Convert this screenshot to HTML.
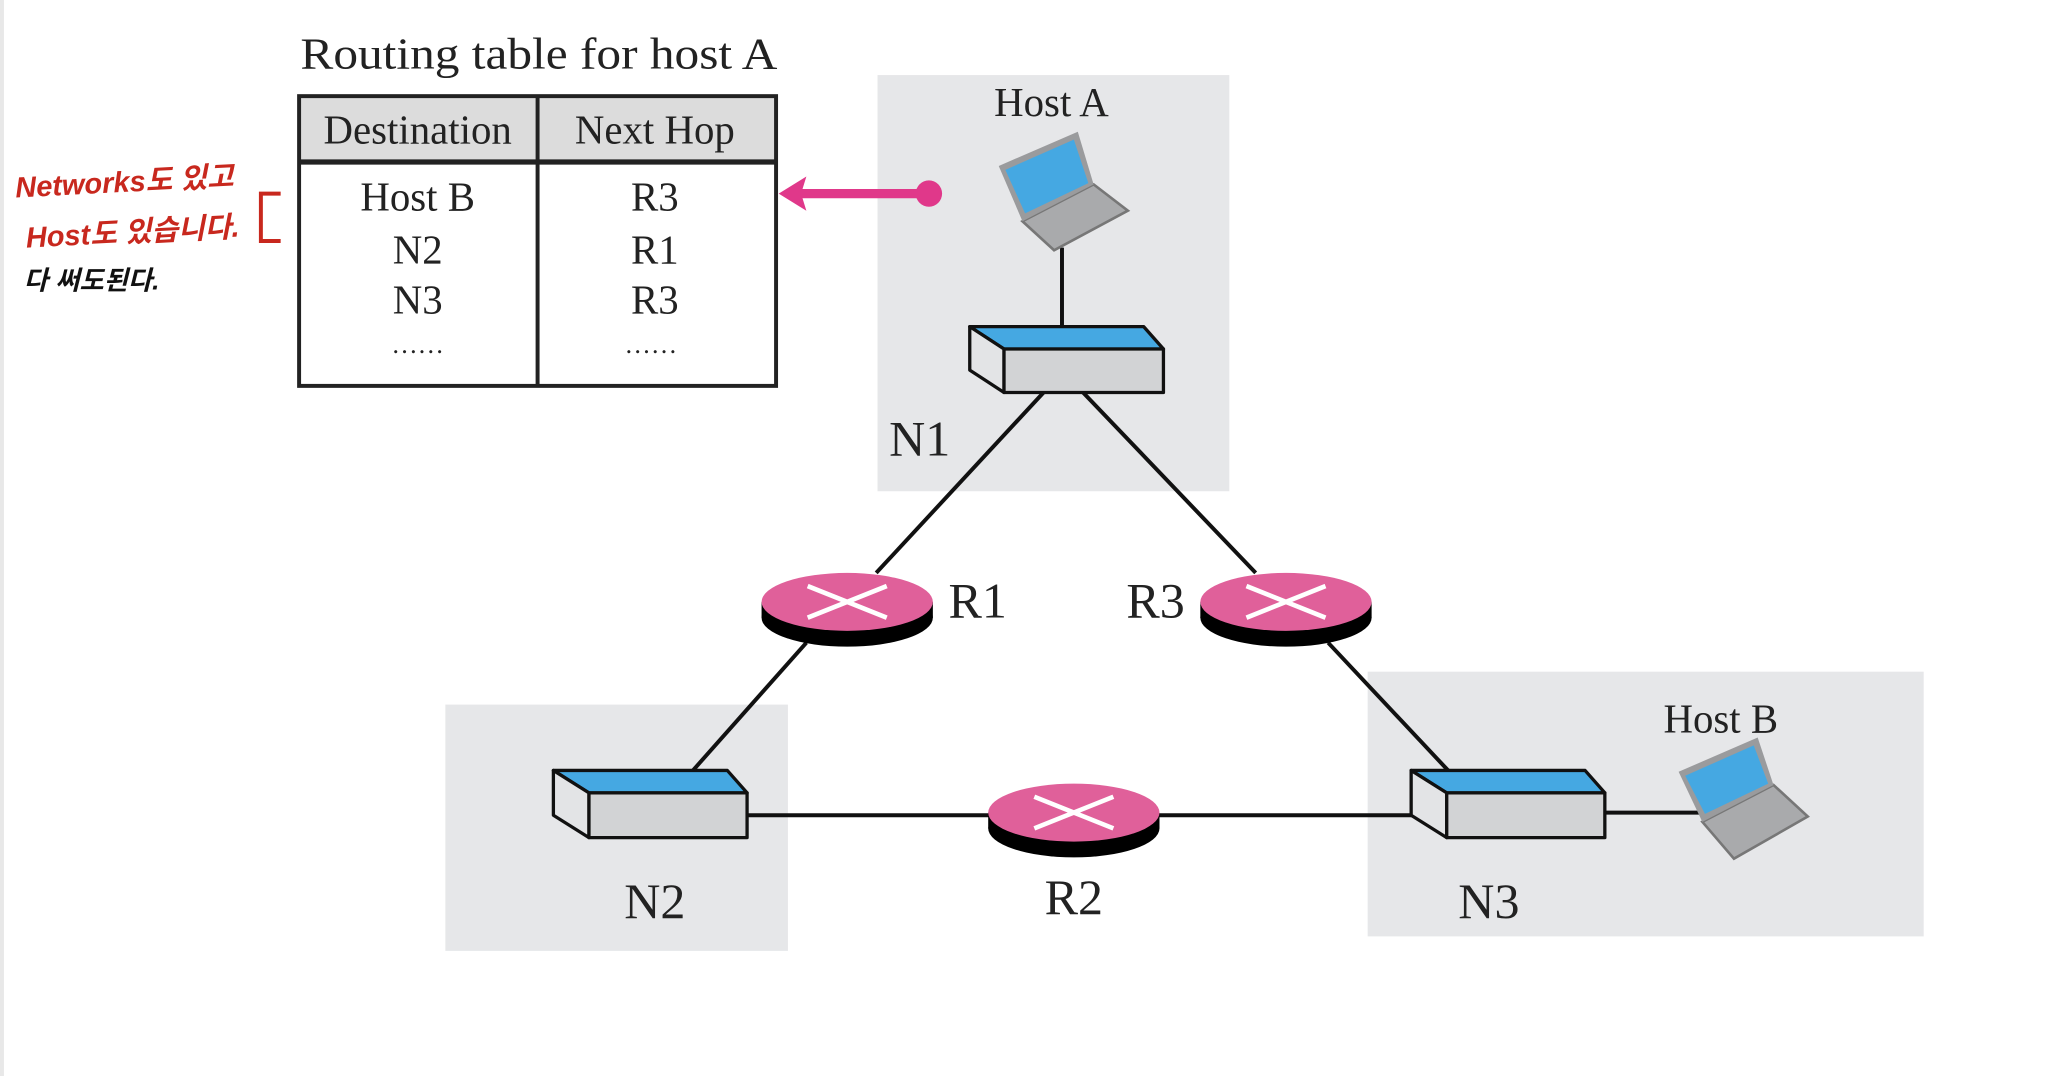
<!DOCTYPE html>
<html><head><meta charset="utf-8"><style>
html,body{margin:0;padding:0;background:#fff;}
svg{display:block;}
</style></head><body>
<svg width="2066" height="1076" viewBox="0 0 1568 817" preserveAspectRatio="none" xmlns="http://www.w3.org/2000/svg" font-family="'Liberation Serif', serif">
<rect x="0" y="0" width="1568" height="817" fill="#fff"/>
<rect x="0" y="0" width="3" height="817" fill="#e8e8e8"/>
<!-- network boxes -->
<rect x="666" y="57" width="267" height="316" fill="#e6e7e9"/>
<rect x="338" y="535" width="260" height="187" fill="#e6e7e9"/>
<rect x="1038" y="510" width="422" height="201" fill="#e6e7e9"/>
<!-- title -->
<text x="228" y="52" font-size="34" fill="#222" textLength="362" lengthAdjust="spacingAndGlyphs">Routing table for host A</text>
<!-- table -->
<rect x="227" y="73" width="362" height="50" fill="#dcdcdc"/>
<rect x="227" y="73" width="362" height="220" fill="none" stroke="#222" stroke-width="3"/>
<line x1="227" y1="123" x2="589" y2="123" stroke="#222" stroke-width="4"/>
<line x1="408" y1="73" x2="408" y2="293" stroke="#222" stroke-width="3"/>
<g font-size="31" fill="#222" text-anchor="middle">
<text x="317" y="109">Destination</text>
<text x="497" y="109">Next Hop</text>
<text x="317" y="160">Host B</text><text x="497" y="160">R3</text>
<text x="317" y="200">N2</text><text x="497" y="200">R1</text>
<text x="317" y="238">N3</text><text x="497" y="238">R3</text>
<text x="317" y="268" font-size="20">……</text><text x="494" y="268" font-size="20">……</text>
</g>
<!-- arrow -->
<line x1="705" y1="147" x2="606" y2="147" stroke="#e0388a" stroke-width="7"/>
<circle cx="705" cy="147" r="10" fill="#e0388a"/>
<polygon points="591,147 612,134 608,147 612,160" fill="#e0388a"/>
<!-- annotations -->
<g font-family="'Liberation Sans','Noto Sans CJK KR',sans-serif" font-weight="bold" font-style="italic">
<text x="12" y="150" font-size="22" fill="#c8281e" transform="rotate(-3 12 150)">Networks도 있고</text>
<text x="20" y="188" font-size="22" fill="#c8281e" transform="rotate(-3 20 188)">Host도 있습니다.</text>
<text x="18" y="220" font-size="20" fill="#111">다 써도된다.</text>
</g>
<polyline points="213,147 198,147 198,183 213,183" fill="none" stroke="#c8281e" stroke-width="3"/>
<!-- links -->
<g stroke="#111" stroke-width="3" fill="none">
<line x1="806" y1="188" x2="806" y2="248"/>
<line x1="792" y1="298" x2="665" y2="435"/>
<line x1="822" y1="298" x2="953" y2="435"/>
<line x1="612" y1="488" x2="525" y2="586"/>
<line x1="1008" y1="488" x2="1100" y2="586"/>
<line x1="567" y1="619" x2="752" y2="619"/>
<line x1="878" y1="619" x2="1075" y2="619"/>
<line x1="1218" y1="617" x2="1290" y2="617"/>
</g>
<!-- laptops -->
<g>
<polygon points="776,168 830,140 856,160 800,190" fill="#a9aaac" stroke="#777" stroke-width="2"/>
<polygon points="758,126 818,100 830,140 776,168" fill="#9a9b9d"/>
<polygon points="763,129 815,106 826,139 778,162" fill="#45a8e2"/>
</g>
<g>
<polygon points="1292,624 1346,596 1372,620 1316,652" fill="#a9aaac" stroke="#777" stroke-width="2"/>
<polygon points="1274,586 1334,560 1346,596 1292,624" fill="#9a9b9d"/>
<polygon points="1279,589 1331,566 1342,595 1294,618" fill="#45a8e2"/>
</g>
<!-- switches -->
<g stroke="#111" stroke-width="2.5" stroke-linejoin="round">
<polygon points="736,248 868,248 883,265 762,265" fill="#45a8e2"/>
<polygon points="736,248 762,265 762,298 736,281" fill="#e3e4e6"/>
<rect x="762" y="265" width="121" height="33" fill="#d2d3d5"/>
<polygon points="420,585 552,585 567,602 447,602" fill="#45a8e2"/>
<polygon points="420,585 447,602 447,636 420,619" fill="#e3e4e6"/>
<rect x="447" y="602" width="120" height="34" fill="#d2d3d5"/>
<polygon points="1071,585 1203,585 1218,602 1098,602" fill="#45a8e2"/>
<polygon points="1071,585 1098,602 1098,636 1071,619" fill="#e3e4e6"/>
<rect x="1098" y="602" width="120" height="34" fill="#d2d3d5"/>
</g>
<!-- routers -->
<g>
<g transform="translate(643,457)">
<ellipse cx="0" cy="12" rx="65" ry="22" fill="#000"/>
<rect x="-65" y="0" width="130" height="12" fill="#000"/>
<ellipse cx="0" cy="0" rx="65" ry="22" fill="#e0609a"/>
<path d="M-30,-12 L30,12 M-30,12 L30,-12" stroke="#fff" stroke-width="3.5"/>
</g>
<g transform="translate(976,457)">
<ellipse cx="0" cy="12" rx="65" ry="22" fill="#000"/>
<rect x="-65" y="0" width="130" height="12" fill="#000"/>
<ellipse cx="0" cy="0" rx="65" ry="22" fill="#e0609a"/>
<path d="M-30,-12 L30,12 M-30,12 L30,-12" stroke="#fff" stroke-width="3.5"/>
</g>
<g transform="translate(815,617)">
<ellipse cx="0" cy="12" rx="65" ry="22" fill="#000"/>
<rect x="-65" y="0" width="130" height="12" fill="#000"/>
<ellipse cx="0" cy="0" rx="65" ry="22" fill="#e0609a"/>
<path d="M-30,-12 L30,12 M-30,12 L30,-12" stroke="#fff" stroke-width="3.5"/>
</g>
</g>
<!-- labels -->
<g fill="#222">
<text x="798" y="88" font-size="31" text-anchor="middle">Host A</text>
<text x="1306" y="556" font-size="31" text-anchor="middle">Host B</text>
<text x="698" y="346" font-size="38" text-anchor="middle">N1</text>
<text x="742" y="469" font-size="38" text-anchor="middle">R1</text>
<text x="877" y="469" font-size="38" text-anchor="middle">R3</text>
<text x="497" y="697" font-size="38" text-anchor="middle">N2</text>
<text x="815" y="694" font-size="38" text-anchor="middle">R2</text>
<text x="1130" y="697" font-size="38" text-anchor="middle">N3</text>
</g>
</svg>
</body></html>
